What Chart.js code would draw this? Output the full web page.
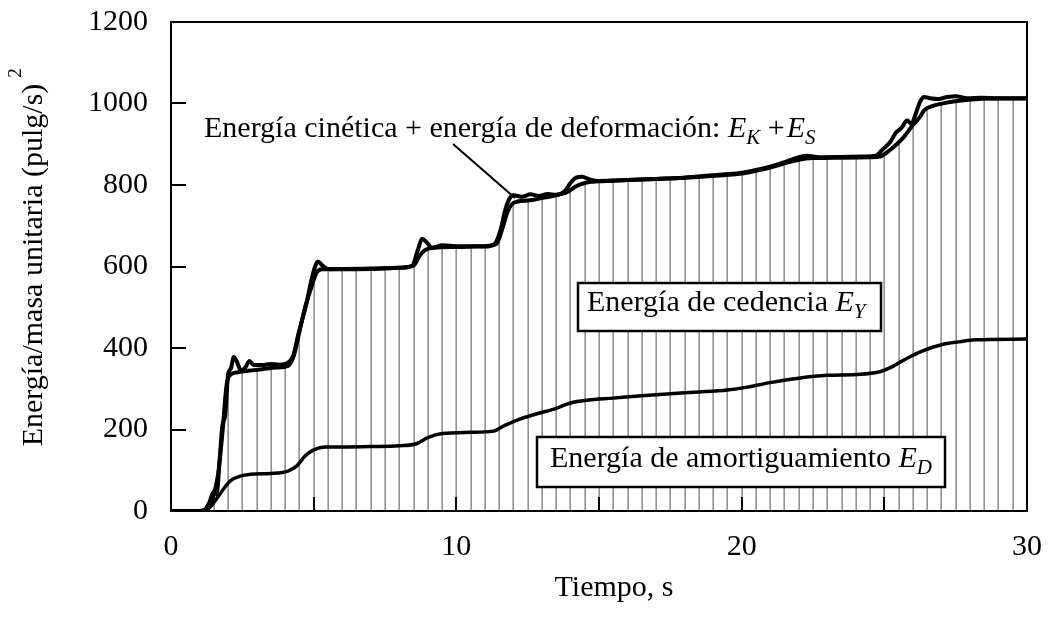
<!DOCTYPE html>
<html>
<head>
<meta charset="utf-8">
<script src="https://cdn.jsdelivr.net/npm/chart.js@4.4.1/dist/chart.umd.min.js"></script>
<style>
  body { margin: 0; background: #fff; }
  canvas { display: block; }
</style>
</head>
<body>
<canvas id="energia" width="1054" height="617"></canvas>
<script>
//Energía de entrada (curva superior)
const tiempoEI = [0, 1.0, 1.2, 1.35, 1.5, 1.6, 1.7, 1.8, 1.9, 2.0, 2.1, 2.2, 2.3, 2.45, 2.6, 2.75, 2.9, 3.2, 3.5, 3.8,
  4.1, 4.3, 4.45, 4.6, 4.75, 4.9, 5.05, 5.15, 5.3, 5.5, 6.0, 7.0, 8.0, 8.45, 8.65, 8.8, 8.95, 9.15, 9.5, 10.0,
  10.5, 11.0, 11.35, 11.55, 11.7, 11.85, 12.0, 12.3, 12.6, 12.9, 13.2, 13.5, 13.8, 14.0, 14.2, 14.4, 14.7, 15.0, 16.0, 17.0,
  18.0, 19.0, 20.0, 20.5, 21.0, 21.5, 22.0, 22.3, 22.7, 23.5, 24.3, 24.7, 24.95, 25.2, 25.4, 25.6, 25.8, 25.95, 26.1, 26.25,
  26.4, 26.6, 26.9, 27.2, 27.5, 27.9, 28.4, 29.0, 30.0];
const energiaEI = [0, 0, 4, 22, 48, 42, 120, 210, 235, 335, 350, 378, 368, 345, 352, 368, 358, 358, 361, 359,
  364, 385, 430, 470, 510, 560, 600, 612, 603, 594, 593, 594, 597, 602, 640, 668, 660, 646, 652, 650,
  650, 649, 656, 690, 735, 765, 775, 771, 777, 773, 778, 776, 785, 805, 818, 820, 813, 810, 812, 815,
  818, 824, 830, 837, 845, 856, 868, 872, 868, 869, 870, 872, 888, 905, 928, 940, 958, 950, 975, 1004,
  1016, 1013, 1011, 1016, 1018, 1013, 1014, 1013, 1013];

//Energía de amortiguamiento + energía de cedencia (borde del área rayada)
const tiempoEDY = [0, 1.1, 1.3, 1.5, 1.65, 1.8, 1.95, 2.1, 2.3, 2.7, 3.2, 3.7, 4.1, 4.3, 4.5, 4.7, 4.9, 5.1, 5.3, 6.0,
  7.0, 8.0, 8.5, 8.7, 8.9, 9.2, 10.0, 11.0, 11.4, 11.6, 11.8, 12.0, 12.5, 13.0, 13.5, 13.9, 14.2, 14.5, 15.0, 16.0,
  17.0, 18.0, 19.0, 20.0, 20.5, 21.0, 21.5, 22.0, 22.5, 23.5, 24.5, 24.85, 25.2, 25.65, 26.0, 26.25, 26.4, 26.7, 27.1, 27.55,
  28.3, 29.0, 30.0];
const energiaEDY = [0, 0, 8, 40, 90, 190, 310, 335, 340, 344, 348, 352, 356, 380, 440, 500, 545, 585, 593, 594,
  595, 597, 602, 625, 640, 646, 648, 650, 655, 690, 735, 756, 762, 768, 775, 783, 797, 805, 809, 812,
  815, 818, 822, 828, 835, 843, 853, 862, 866, 867, 868, 870, 886, 915, 947, 967, 984, 994, 1001, 1006,
  1011, 1012, 1012];

//Energía de amortiguamiento E_D
const tiempoED = [0, 1.2, 1.4, 1.7, 1.9, 2.1, 2.4, 2.8, 3.5, 4.1, 4.4, 4.7, 5.0, 5.4, 6.0, 7.0, 8.0, 8.6, 9.0, 9.5,
  10.5, 11.3, 11.7, 12.2, 12.8, 13.5, 14.0, 14.6, 15.5, 16.5, 17.5, 18.5, 19.5, 20.2, 21.0, 22.0, 23.0, 24.0, 24.8, 25.3,
  25.8, 26.3, 27.0, 27.6, 28.2, 30.0];
const energiaED = [0, 0, 12, 40, 60, 75, 85, 90, 92, 98, 110, 135, 150, 157, 157, 158, 160, 165, 180, 190,
  193, 196, 210, 225, 238, 252, 265, 272, 277, 283, 288, 292, 297, 304, 315, 326, 333, 335, 341, 355,
  375, 392, 408, 415, 420, 422];

//Ticks
const ticksX = [0, 10, 20, 30];
const ticksY = [0, 200, 400, 600, 800, 1000, 1200];
const marcasX = [5, 10, 15, 20, 25];
const marcasY = [200, 400, 600, 800, 1000];
const pasoRayado = 0.5;

const serif = '"Liberation Serif", "Times New Roman", serif';
const pares = (ts, vs) => ts.map((t, i) => ({ x: t, y: vs[i] }));

//vertical hatch pattern, one line every pasoRayado seconds
let rayado = null;
function hatch(context) {
  const chart = context.chart;
  if (!chart.chartArea) return "rgba(0,0,0,0)";
  if (rayado) return rayado;
  const xs = chart.scales.x;
  const c = document.createElement("canvas");
  c.width = chart.width;
  c.height = 1;
  const g = c.getContext("2d");
  g.fillStyle = "#777";
  for (let t = pasoRayado; t < xs.max - 0.01; t += pasoRayado) {
    g.fillRect(Math.round(xs.getPixelForValue(t)) - 0.5, 0, 1.3, 1);
  }
  rayado = chart.ctx.createPattern(c, "repeat");
  return rayado;
}

//text with italic parts and subscripts
function rich(ctx, parts, x, y) {
  for (const p of parts) {
    ctx.font = p.f;
    ctx.fillText(p.t, x, y + (p.dy || 0));
    x += ctx.measureText(p.t).width + (p.gap || 0);
  }
  return x;
}
const normal = "30px " + serif;
const italic = "italic 30px " + serif;
const subI = "italic 21px " + serif;

const marco = {
  id: "marco",
  afterDatasetsDraw(chart) {
    const { ctx, chartArea: a, scales } = chart;
    ctx.save();
    ctx.strokeStyle = "#000";
    ctx.lineWidth = 2;
    ctx.strokeRect(a.left, a.top, a.right - a.left, a.bottom - a.top);
    ctx.beginPath();
    marcasY.forEach((v) => {
      const y = Math.round(scales.y.getPixelForValue(v));
      ctx.moveTo(a.left, y);
      ctx.lineTo(a.left + 15, y);
    });
    marcasX.forEach((v) => {
      const x = Math.round(scales.x.getPixelForValue(v));
      ctx.moveTo(x, a.bottom);
      ctx.lineTo(x, a.bottom - 14);
    });
    ctx.stroke();
    ctx.restore();
  },
};

const notas = {
  id: "notas",
  afterDraw(chart) {
    const { ctx } = chart;
    ctx.save();
    ctx.fillStyle = "#000";
    ctx.strokeStyle = "#000";
    ctx.textBaseline = "alphabetic";
    ctx.textAlign = "left";

    //leader line
    ctx.lineWidth = 2;
    ctx.beginPath();
    ctx.moveTo(453, 144);
    ctx.lineTo(515, 198);
    ctx.stroke();

    rich(ctx, [
      { t: "Energía cinética + energía de deformación: ", f: normal },
      { t: "E", f: italic },
      { t: "K", f: subI, dy: 7 },
      { t: " +", f: normal, gap: 2 },
      { t: "E", f: italic },
      { t: "S", f: subI, dy: 7 },
    ], 204, 137);

    //boxes
    ctx.lineWidth = 2.5;
    ctx.fillStyle = "#fff";
    ctx.fillRect(578, 283, 303, 48);
    ctx.strokeRect(578, 283, 303, 48);
    ctx.fillRect(537, 437, 408, 50);
    ctx.strokeRect(537, 437, 408, 50);
    ctx.fillStyle = "#000";
    rich(ctx, [
      { t: "Energía de cedencia ", f: normal },
      { t: "E", f: italic },
      { t: "Y", f: subI, dy: 7 },
    ], 587, 311);
    rich(ctx, [
      { t: "Energía de amortiguamiento ", f: normal },
      { t: "E", f: italic },
      { t: "D", f: subI, dy: 7 },
    ], 550, 467);

    //axis titles
    ctx.font = normal;
    ctx.textAlign = "center";
    ctx.fillText("Tiempo, s", 614, 596);

    ctx.translate(42, 265);
    ctx.rotate(-Math.PI / 2);
    ctx.textAlign = "left";
    const texto = "Energía/masa unitaria (pulg/s)";
    ctx.font = normal;
    const w = ctx.measureText(texto).width;
    ctx.fillText(texto, -w / 2, 0);
    ctx.font = "19px " + serif;
    ctx.fillText("2", w / 2 + 6, -21);
    ctx.restore();
  },
};

new Chart(document.getElementById("energia"), {
  type: "line",
  plugins: [marco, notas],
  data: {
    datasets: [
      {
        label: "ED",
        data: pares(tiempoED, energiaED),
        borderColor: "#000",
        borderWidth: 3.5,
        fill: false,
      },
      {
        label: "ED+EY",
        data: pares(tiempoEDY, energiaEDY),
        borderColor: "#000",
        borderWidth: 4,
        fill: "origin",
        backgroundColor: hatch,
      },
      {
        label: "EI",
        data: pares(tiempoEI, energiaEI),
        borderColor: "#000",
        borderWidth: 4,
        fill: false,
      },
    ],
  },
  options: {
    responsive: false,
    devicePixelRatio: 1,
    animation: false,
    layout: { padding: { left: 0, top: 22, right: 27, bottom: 0 } },
    elements: {
      point: { radius: 0 },
      line: { cubicInterpolationMode: "monotone", borderJoinStyle: "round", borderCapStyle: "round" },
    },
    plugins: {
      legend: { display: false },
      tooltip: { enabled: false },
      filler: { drawTime: "beforeDatasetsDraw" },
    },
    scales: {
      x: {
        type: "linear",
        min: 0,
        max: 30,
        grid: { display: false, drawTicks: false },
        border: { display: false },
        afterBuildTicks: (s) => { s.ticks = ticksX.map((v) => ({ value: v })); },
        afterFit: (s) => { s.height = 106; s.paddingLeft = 0; s.paddingRight = 0; },
        ticks: { color: "#000", font: { family: serif, size: 30 }, padding: 18, maxRotation: 0, callback: (v) => String(v) },
      },
      y: {
        min: 0,
        max: 1200,
        grid: { display: false, drawTicks: false },
        border: { display: false },
        afterBuildTicks: (s) => { s.ticks = ticksY.map((v) => ({ value: v })); },
        afterFit: (s) => { s.width = 171; s.paddingTop = 0; s.paddingBottom = 0; },
        ticks: { color: "#000", font: { family: serif, size: 30 }, padding: 23, callback: (v) => String(v) },
      },
    },
  },
});
</script>
</body>
</html>
